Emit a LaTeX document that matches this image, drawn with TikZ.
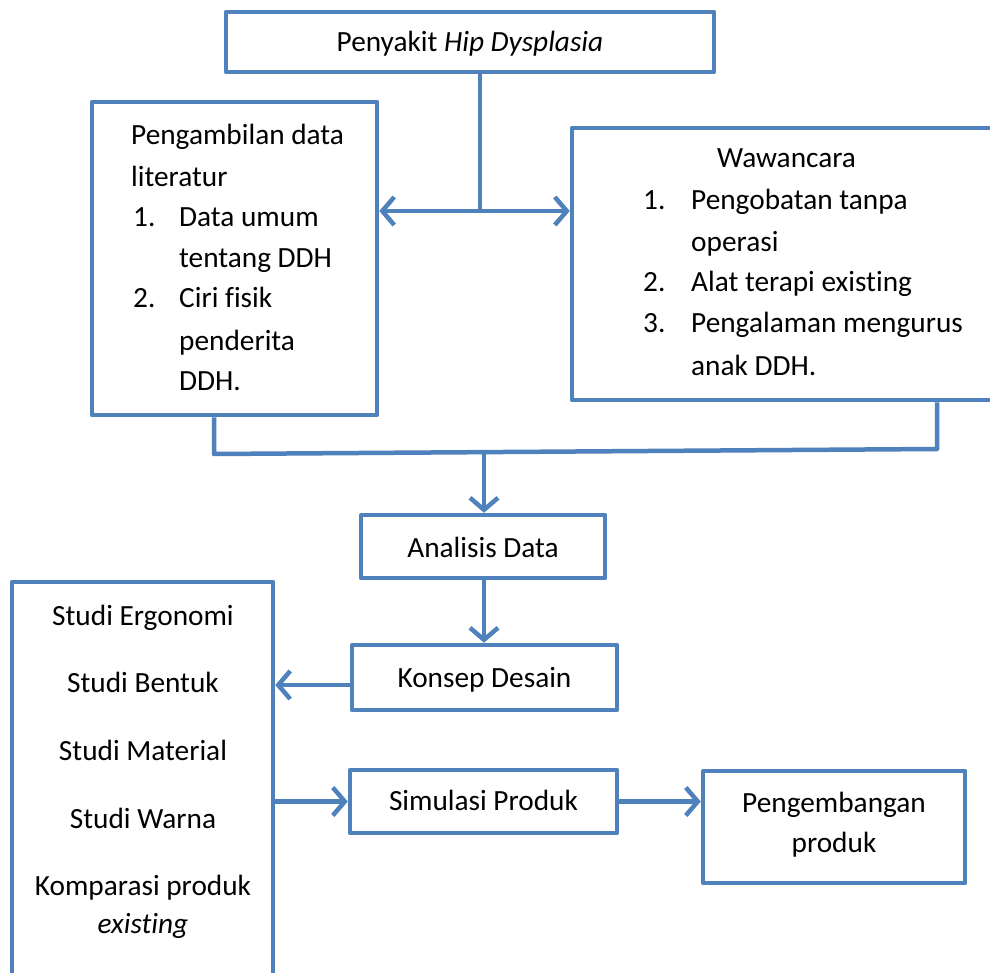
\documentclass[tikz,border=0pt]{standalone}
\usepackage{fontspec}
\setmainfont[Ligatures=NoCommon]{Carlito}
\usetikzlibrary{arrows.meta}
\definecolor{bl}{HTML}{4F81BD}
\begin{document}
\begin{tikzpicture}[x=1pt,y=-1pt,
  box/.style={draw=bl, line width=4.5pt, line join=round, inner sep=0pt},
  ln/.style={draw=bl, line width=4.5pt},
  arr/.style={draw=bl, line width=4.5pt, -{Straight Barb[length=12pt,width=28pt]}},
  darr/.style={draw=bl, line width=4.5pt, {Straight Barb[length=12pt,width=28pt]}-{Straight Barb[length=12pt,width=28pt]}},
  txt/.style={font=\fontsize{29.3}{41}\selectfont, inner sep=0pt}]
\useasboundingbox (0,0) rectangle (990,973);
\clip (0,0) rectangle (990,973);
\fill[white] (0,0) rectangle (990,973);
% boxes
\node[box, minimum width=488pt, minimum height=60pt] (top) at (470,42) {};
\node[box, minimum width=285pt, minimum height=313pt] (lit) at (234.5,258.5) {};
\node[box, minimum width=440pt, minimum height=272pt] (waw) at (792,264) {};
\node[box, minimum width=244pt, minimum height=63pt] (anal) at (483,546.5) {};
\node[box, minimum width=265pt, minimum height=65pt] (konsep) at (484.5,677.5) {};
\node[box, minimum width=261pt, minimum height=418pt] (studi) at (142.5,791) {};
\node[box, minimum width=267pt, minimum height=63pt] (simul) at (483.5,801.5) {};
\node[box, minimum width=262pt, minimum height=112pt] (pengem) at (834,827) {};
% texts
\node[txt, anchor=base] (ttop) at (470,52) {Penyakit \textit{Hip Dysplasia}};
\node[txt, anchor=base west] (l1) at (131,145) {Pengambilan data};
\node[txt, anchor=base west] (l2) at (131,187) {literatur};
\node[txt, anchor=base west] (l3n) at (133,227) {1.};
\node[txt, anchor=base west] (l3) at (179,227) {Data umum};
\node[txt, anchor=base west] (l4) at (179,268) {tentang DDH};
\node[txt, anchor=base west] (l5n) at (133,308) {2.};
\node[txt, anchor=base west] (l5) at (179,308) {Ciri fisik};
\node[txt, anchor=base west] (l6) at (179,350) {penderita};
\node[txt, anchor=base west] (l7) at (179,390) {DDH.};
\node[txt, anchor=base west] (w0) at (717,168) {Wawancara};
\node[txt, anchor=base west] (w1n) at (643,210) {1.};
\node[txt, anchor=base west] (w1) at (691,210) {Pengobatan tanpa};
\node[txt, anchor=base west] (w2) at (691,252) {operasi};
\node[txt, anchor=base west] (w3n) at (643,292) {2.};
\node[txt, anchor=base west] (w3) at (691,292) {Alat terapi existing};
\node[txt, anchor=base west] (w4n) at (643,333) {3.};
\node[txt, anchor=base west] (w4) at (691,333) {Pengalaman mengurus};
\node[txt, anchor=base west] (w5) at (691,375) {anak DDH.};
\node[txt, anchor=base] (ta) at (483,557) {Analisis Data};
\node[txt, anchor=base] (tk) at (484.5,687) {Konsep Desain};
\node[txt, anchor=base] (ts) at (483.5,810) {Simulasi Produk};
\node[txt, anchor=base] (tp1) at (834,812) {Pengembangan};
\node[txt, anchor=base] (tp2) at (834,852) {produk};
\node[txt, anchor=base] (s1) at (143,625) {Studi Ergonomi};
\node[txt, anchor=base] (s2) at (143,692) {Studi Bentuk};
\node[txt, anchor=base] (s3) at (143,760) {Studi Material};
\node[txt, anchor=base] (s4) at (143,828) {Studi Warna};
\node[txt, anchor=base] (s5) at (143,895) {Komparasi produk};
\node[txt, anchor=base] (s6) at (143,933) {\textit{existing}};
% connectors
\coordinate (split) at (480,211);
\coordinate (jl) at (214,454);
\coordinate (jr) at (937,449);
\coordinate (jm) at (484,452);
\coordinate (ka) at (352,685);
\draw[ln] (top.south -| split) -- (split);
\draw[darr] (lit.east |- split) -- (waw.west |- split);
\draw[ln, line join=round] (lit.south -| jl) -- (jl) -- (jr) -- (waw.south -| jr);
\draw[arr] (jm) -- (anal.north -| jm);
\draw[arr] (anal.south -| jm) -- (konsep.north -| jm);
\draw[arr] (konsep.west |- ka) -- (studi.east |- ka);
\draw[arr] (studi.east |- simul.west) -- (simul.west);
\draw[arr] (simul.east) -- (pengem.west |- simul.east);
\end{tikzpicture}
\end{document}
